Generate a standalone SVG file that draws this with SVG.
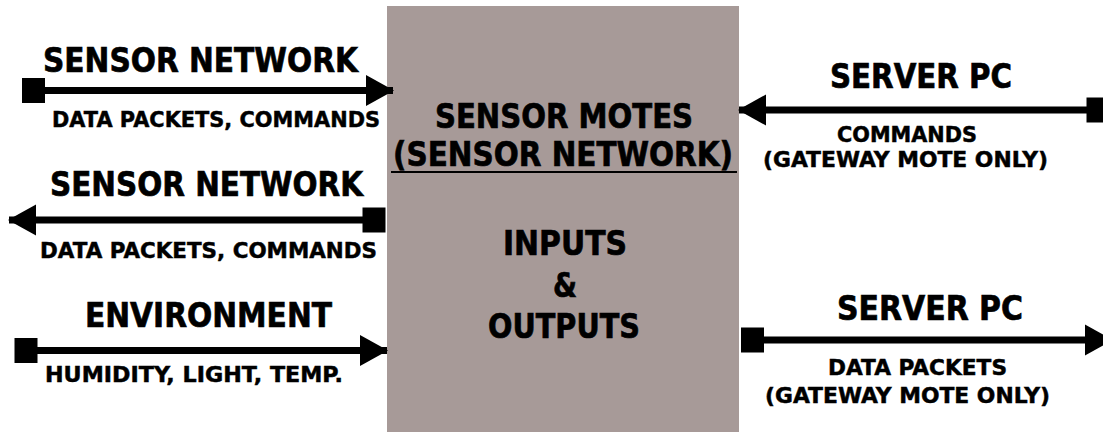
<svg xmlns="http://www.w3.org/2000/svg" width="1103" height="435" viewBox="0 0 1103 435">
<style>
text{font-family:"DejaVu Sans","Liberation Sans",sans-serif;font-weight:bold;fill:#000;stroke:#000;stroke-width:0.7}
.big{font-size:33px}
.small{font-size:22px;stroke-width:0.5}
.conn{stroke:#000;stroke-width:7;fill:none;marker-start:url(#sq);marker-end:url(#arr)}
</style>
<defs>
<marker id="arr" markerUnits="userSpaceOnUse" markerWidth="28" markerHeight="31" refX="27" refY="15.5" orient="auto" overflow="visible"><path d="M0,0 L28,15.5 L0,31 Z" fill="#000"/></marker>
<marker id="sq" markerUnits="userSpaceOnUse" markerWidth="23" markerHeight="25" refX="11.5" refY="12.5" orient="auto" overflow="visible"><rect x="0" y="0" width="23" height="25" fill="#000"/></marker>
</defs>
<rect width="1103" height="435" fill="#fff"/>
<g id="motes">
<rect x="387" y="6" width="352" height="426" fill="#a79a98"/>
<text class="big" x="435" y="128" textLength="258" lengthAdjust="spacingAndGlyphs">SENSOR MOTES</text>
<text class="big" x="393" y="166" textLength="340" lengthAdjust="spacingAndGlyphs">(SENSOR NETWORK)</text>
<rect x="391" y="171" width="346" height="2" fill="#000"/>
<text class="big" x="503" y="255" textLength="124" lengthAdjust="spacingAndGlyphs">INPUTS</text>
<text class="big" x="553" y="297" textLength="24" lengthAdjust="spacingAndGlyphs">&amp;</text>
<text class="big" x="488" y="338" textLength="152" lengthAdjust="spacingAndGlyphs">OUTPUTS</text>
</g>
<g id="sensor-network-in">
<text class="big" x="43" y="72" textLength="315" lengthAdjust="spacingAndGlyphs">SENSOR NETWORK</text>
<text class="small" x="52" y="127" textLength="328" lengthAdjust="spacingAndGlyphs">DATA PACKETS, COMMANDS</text>
</g>
<g id="sensor-network-out">
<text class="big" x="50" y="196" textLength="313" lengthAdjust="spacingAndGlyphs">SENSOR NETWORK</text>
<text class="small" x="40" y="258" textLength="337" lengthAdjust="spacingAndGlyphs">DATA PACKETS, COMMANDS</text>
</g>
<g id="environment">
<text class="big" x="85" y="327" textLength="247" lengthAdjust="spacingAndGlyphs">ENVIRONMENT</text>
<text class="small" x="45" y="382" textLength="298" lengthAdjust="spacingAndGlyphs">HUMIDITY, LIGHT, TEMP.</text>
</g>
<g id="server-pc-in">
<text class="big" x="830" y="88" textLength="182" lengthAdjust="spacingAndGlyphs">SERVER PC</text>
<text class="small" x="837" y="142" textLength="140" lengthAdjust="spacingAndGlyphs">COMMANDS</text>
<text class="small" x="763" y="167" textLength="285" lengthAdjust="spacingAndGlyphs">(GATEWAY MOTE ONLY)</text>
</g>
<g id="server-pc-out">
<text class="big" x="837" y="320" textLength="186" lengthAdjust="spacingAndGlyphs">SERVER PC</text>
<text class="small" x="828" y="375" textLength="179" lengthAdjust="spacingAndGlyphs">DATA PACKETS</text>
<text class="small" x="765" y="403" textLength="285" lengthAdjust="spacingAndGlyphs">(GATEWAY MOTE ONLY)</text>
</g>
<g id="connectors">
<line class="conn" x1="33.5" y1="90.5" x2="393" y2="90.5"/>
<line class="conn" x1="374" y1="220" x2="9" y2="220"/>
<line class="conn" x1="26" y1="350.5" x2="387" y2="350.5"/>
<line class="conn" x1="1098" y1="110" x2="739" y2="110"/>
<line class="conn" x1="752.5" y1="340" x2="1112" y2="340"/>
</g>
</svg>
